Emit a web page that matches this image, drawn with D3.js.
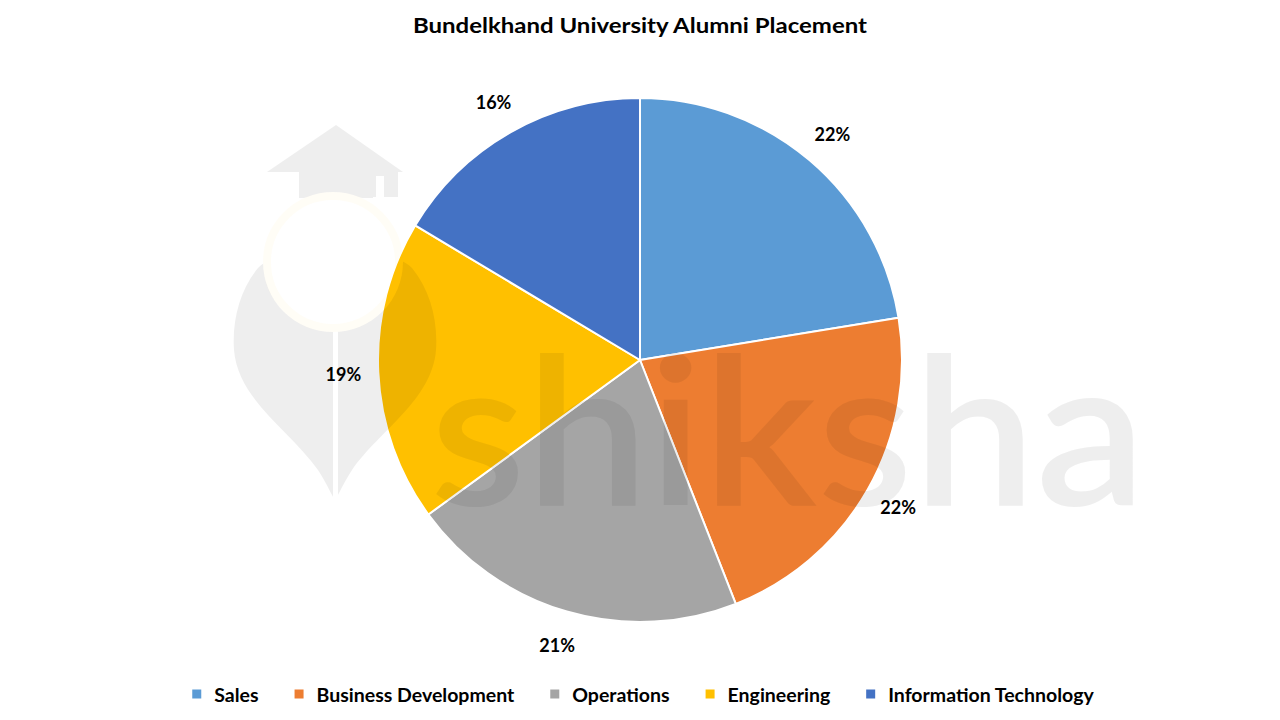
<!DOCTYPE html>
<html>
<head>
<meta charset="utf-8">
<script src="https://cdn.jsdelivr.net/npm/d3@7"></script>
<style>
  html, body { margin: 0; padding: 0; background: #ffffff; }
  svg { display: block; }
  text { font-family: Lato, "Open Sans", "Liberation Sans", sans-serif; }
</style>
</head>
<body>
<svg id="chart" width="1280" height="720"></svg>
<script>
const title = "Bundelkhand University Alumni Placement";
const categories = ["Sales", "Business Development", "Operations", "Engineering", "Information Technology"];
const values = [22.4, 21.6, 20.9, 18.6, 16.4];
const colors = ["#5B9BD5", "#ED7D31", "#A5A5A5", "#FFC000", "#4472C4"];
const watermarkText = "shiksha";

const W = 1280, H = 720;
const cx = 640, cy = 360, R = 262, labelR = 297;
const svg = d3.select("#chart");

svg.append("rect").attr("width", W).attr("height", H).attr("fill", "#ffffff");

// Title
svg.append("text")
  .attr("x", 640).attr("y", 33)
  .attr("text-anchor", "middle")
  .attr("font-size", 21).attr("font-weight", 700)
  .attr("fill", "#000")
  .attr("textLength", 454).attr("lengthAdjust", "spacingAndGlyphs")
  .text(title);

// Pie
const data = categories.map((c, i) => ({ cat: c, value: values[i], color: colors[i] }));
const total = d3.sum(values);
const pie = d3.pie().value(d => d.value).sort(null);
const arcs = pie(data);
const arc = d3.arc().innerRadius(0).outerRadius(R);
const labelArc = d3.arc().innerRadius(labelR).outerRadius(labelR);

const g = svg.append("g").attr("transform", `translate(${cx},${cy})`);
g.selectAll("path.slice").data(arcs).enter().append("path")
  .attr("class", "slice")
  .attr("d", arc)
  .attr("fill", d => d.data.color)
  .attr("stroke", "#ffffff")
  .attr("stroke-width", 2)
  .attr("stroke-linejoin", "round");

// Watermark (semi-transparent overlay)
const defs = svg.append("defs");
const mask = defs.append("mask").attr("id", "wm-mask")
  .attr("maskUnits", "userSpaceOnUse").attr("x", 0).attr("y", 0).attr("width", W).attr("height", H);
mask.append("rect").attr("width", W).attr("height", H).attr("fill", "black");
// roof
mask.append("path").attr("d", "M336,125 L403,172 L267,172 Z").attr("fill", "white");
mask.append("rect").attr("x", 299).attr("y", 170).attr("width", 74).attr("height", 28).attr("fill", "white");
mask.append("rect").attr("x", 370).attr("y", 170).attr("width", 28).attr("height", 27).attr("fill", "white");
mask.append("rect").attr("x", 376).attr("y", 176).attr("width", 8).attr("height", 22).attr("fill", "black");
// body
mask.append("path")
  .attr("d", "M335,252 C300,252 270,255 258,268 C240,290 232,320 234,350 C238,400 290,430 318,470 C326,482 330,492 335,500 C340,492 344,482 352,470 C380,430 432,400 436,350 C438,320 430,290 412,268 C400,255 370,252 335,252 Z")
  .attr("fill", "white");
// head (cut out)
mask.append("circle").attr("cx", 333).attr("cy", 262).attr("r", 70).attr("fill", "black");
// centre line
mask.append("rect").attr("x", 333).attr("y", 330).attr("width", 5).attr("height", 175).attr("fill", "black");
// text
mask.append("text")
  .attr("x", 430).attr("y", 505)
  .attr("font-family", "'Open Sans', sans-serif")
  .attr("font-size", 206).attr("font-weight", 600)
  .attr("textLength", 716).attr("lengthAdjust", "spacingAndGlyphs")
  .attr("fill", "white")
  .text(watermarkText);

svg.append("rect").attr("width", W).attr("height", H)
  .attr("fill", "#000").attr("fill-opacity", 0.068)
  .attr("mask", "url(#wm-mask)");
svg.append("circle").attr("cx", 333).attr("cy", 262).attr("r", 66)
  .attr("fill", "none").attr("stroke", "#FFC000").attr("stroke-opacity", 0.035).attr("stroke-width", 8);

// Labels
svg.append("g").attr("transform", `translate(${cx},${cy})`)
  .selectAll("text").data(arcs).enter().append("text")
  .attr("transform", d => `translate(${labelArc.centroid(d)})`)
  .attr("text-anchor", "middle")
  .attr("dominant-baseline", "central")
  .attr("font-size", 18).attr("font-weight", 700)
  .attr("fill", "#000")
  .text(d => Math.round(d.data.value / total * 100) + "%");

// Legend
const legend = svg.append("g");
const items = legend.selectAll("g").data(data).enter().append("g");
items.append("rect").attr("width", 9).attr("height", 9).attr("y", -4.5).attr("fill", d => d.color);
items.append("text").attr("x", 22).attr("y", 0)
  .attr("dominant-baseline", "central")
  .attr("font-size", 19.5).attr("font-weight", 700).attr("fill", "#000")
  .text(d => d.cat);
const gap = 36;
let widths = [];
items.each(function () { widths.push(22 + d3.select(this).select("text").node().getComputedTextLength()); });
const totalW = d3.sum(widths) + gap * (widths.length - 1);
let x0 = 643 - totalW / 2;
items.attr("transform", (d, i) => { const t = `translate(${x0},694)`; x0 += widths[i] + gap; return t; });
</script>
</body>
</html>
